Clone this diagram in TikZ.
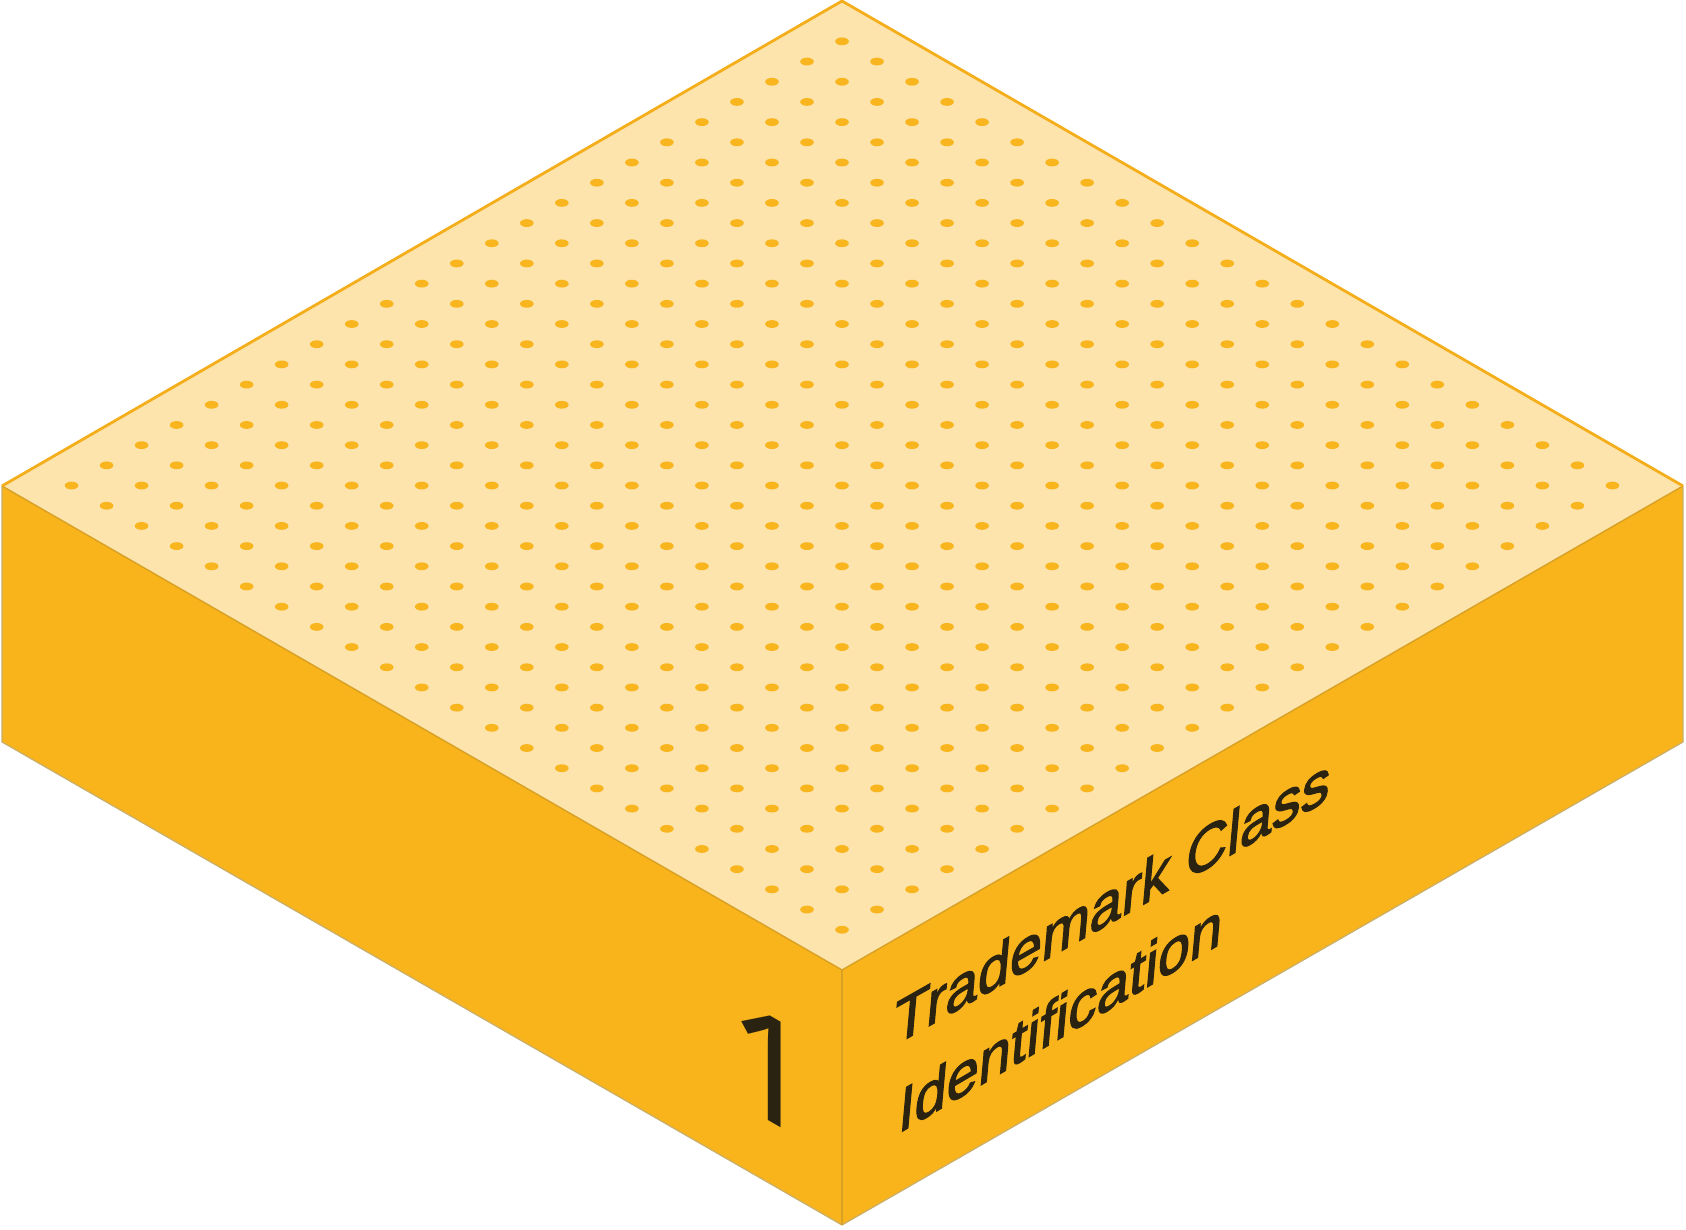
\documentclass[tikz,border=0pt]{standalone}
\usepackage{fontspec}
\setmainfont{Liberation Sans}
\newfontfamily\facefont[FakeBold=2]{Liberation Sans}
\newfontfamily\onefont{Noto Sans}
\begin{document}
\begin{tikzpicture}[x=1pt,y=1pt]
\definecolor{topfill}{HTML}{FCE4AC}
\definecolor{sidefill}{HTML}{F8B41A}
\definecolor{dotc}{HTML}{F8B51E}
\definecolor{topline}{HTML}{F5AE1B}
\definecolor{frontline}{HTML}{D8A024}
\definecolor{outline}{HTML}{C9AE6A}
\definecolor{txt}{HTML}{2A2311}
\tikzset{
  sideface/.style={fill=sidefill},
  topface/.style={fill=topfill},
  topedge/.style={draw=topline, line width=2.8pt, line join=round},
  frontedge/.style={draw=frontline, line width=1.4pt, line join=round},
  outedge/.style={draw=outline, line width=1.2pt, line join=round},
  facetext/.style={text=txt, inner sep=0pt, anchor=base west}
}
\useasboundingbox (0,0) rectangle (1686,1229);
\coordinate (T) at (842,1228);
\coordinate (L) at (2,743);
\coordinate (R) at (1683,743);
\coordinate (F) at (842,259);
\coordinate (B) at (842,4);
\coordinate (LB) at (2,487);
\coordinate (RB) at (1683,487);
% side faces
\fill[sideface] (L) -- (F) -- (B) -- (LB) -- cycle;
\fill[sideface] (F) -- (R) -- (RB) -- (B) -- cycle;
% top face
\fill[topface] (T) -- (L) -- (F) -- (R) -- cycle;
% dots
\foreach \i in {1,...,23}{
  \foreach \j in {1,...,23}{
    \fill[dotc] ({842+35.02*(\j-\i)},{1228-20.19*(\i+\j)}) ellipse [x radius=6.8, y radius=3.9];
  }
}
% edges
\draw[outedge] (L) -- (LB) -- (B) -- (RB) -- (R);
\draw[frontedge] (F) -- (B);
\draw[frontedge] (L) -- (F) -- (R);
\draw[topedge] (L) -- (T) -- (R);
% texts
\node[facetext, font=\onefont\fontsize{148}{148}\selectfont, yslant=-0.577] (one) at (728,132) {1};
\node[facetext, font=\facefont\fontsize{64}{64}\selectfont, cm={0.9,0.51,0.09,1,(0,0)}] (line1) at (892,182) {Trademark Class};
\node[facetext, font=\facefont\fontsize{64}{64}\selectfont, cm={0.9,0.53,0.09,1,(0,0)}] (line2) at (897,94.5) {Identification};
\end{tikzpicture}
\end{document}
